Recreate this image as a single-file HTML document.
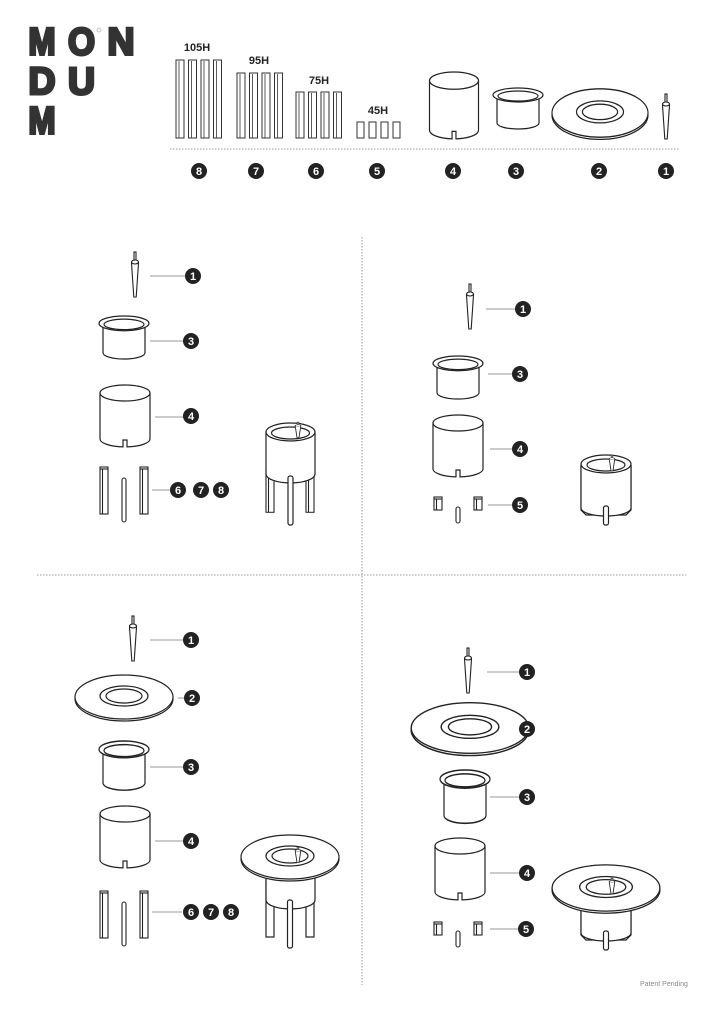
<!DOCTYPE html>
<html><head><meta charset="utf-8"><style>
html,body{margin:0;padding:0;background:#fff;}
svg{display:block;}
</style></head><body>
<svg width="724" height="1024" viewBox="0 0 724 1024" xmlns="http://www.w3.org/2000/svg">
<defs>
<g id="cyl" fill="#fff" stroke="#222" stroke-width="1.2">
  <path d="M-25,8 V54 A25,8 0 0 0 -2,61.9 V55 H2 V61.9 A25,8 0 0 0 25,54 V8"/>
  <ellipse cx="0" cy="8" rx="25" ry="8"/>
</g>
<g id="cup" fill="#fff" stroke="#222" stroke-width="1.2">
  <path d="M-21,10 V35 A21,6 0 0 0 21,35 V10"/>
  <ellipse cx="0" cy="7" rx="25" ry="7"/>
  <ellipse cx="0" cy="8" rx="20" ry="5"/>
</g>
<g id="plate" fill="#fff" stroke="#222" stroke-width="1.2">
  <ellipse cx="0" cy="2" rx="49" ry="22"/>
  <ellipse cx="0" cy="0" rx="49" ry="22"/>
  <ellipse cx="0" cy="-1" rx="24" ry="10"/>
  <ellipse cx="0" cy="-1" rx="18" ry="7"/>
</g>
<g id="spike" fill="#fff" stroke="#222" stroke-width="1.1">
  <rect x="-1" y="0" width="2" height="9"/>
  <path d="M-3.5,11 L3.5,11 L1.2,45 L-1.2,45 Z"/>
  <ellipse cx="0" cy="10" rx="3.5" ry="2"/>
</g>
<g id="legL" fill="#fff" stroke="#222" stroke-width="1.1">
  <rect x="0" y="0" width="8" height="47"/>
  <line x1="2.5" y1="1.5" x2="2.5" y2="47"/>
  <line x1="0" y1="2" x2="8" y2="2"/>
</g>
<g id="legS" fill="#fff" stroke="#222" stroke-width="1.1">
  <rect x="0" y="0" width="8" height="13"/>
  <line x1="2.5" y1="1.5" x2="2.5" y2="13"/>
  <line x1="0" y1="2" x2="8" y2="2"/>
</g>
</defs>

<!-- Logo -->
<g font-family="Liberation Sans, sans-serif" font-weight="bold" font-size="38" fill="#333" stroke="#333" stroke-width="3" stroke-linejoin="miter">
<text x="28.5" y="54.5" textLength="27" lengthAdjust="spacingAndGlyphs">M</text>
<text x="68" y="54.5" textLength="27" lengthAdjust="spacingAndGlyphs">O</text>
<text x="107.5" y="54.5" textLength="27" lengthAdjust="spacingAndGlyphs">N</text>
<text x="28.5" y="94" textLength="27" lengthAdjust="spacingAndGlyphs">D</text>
<text x="68" y="94" textLength="27" lengthAdjust="spacingAndGlyphs">U</text>
<text x="28.5" y="133.5" textLength="27" lengthAdjust="spacingAndGlyphs">M</text>
</g>
<circle cx="99" cy="30" r="2" fill="none" stroke="#999" stroke-width="0.6"/>

<!-- size labels -->
<g font-family="Liberation Sans, sans-serif" font-size="11" font-weight="bold" fill="#222" text-anchor="middle">
<text x="197" y="51">105H</text><text x="259" y="64">95H</text><text x="319" y="84">75H</text><text x="378" y="114">45H</text>
</g>
<g fill="#fff" stroke="#333" stroke-width="1">
<rect x="176" y="60" width="8" height="78"/><rect x="188.5" y="60" width="8" height="78"/><rect x="201" y="60" width="8" height="78"/><rect x="213.5" y="60" width="8" height="78"/>
<rect x="237" y="73" width="8" height="65"/><rect x="249.5" y="73" width="8" height="65"/><rect x="262" y="73" width="8" height="65"/><rect x="274.5" y="73" width="8" height="65"/>
<rect x="296" y="92" width="8" height="46"/><rect x="308.5" y="92" width="8" height="46"/><rect x="321" y="92" width="8" height="46"/><rect x="333.5" y="92" width="8" height="46"/>
<rect x="357" y="122" width="7" height="16"/><rect x="369" y="122" width="7" height="16"/><rect x="381" y="122" width="7" height="16"/><rect x="393" y="122" width="7" height="16"/>
</g>
<g stroke="#333" stroke-width="0.8">
<line x1="179" y1="61" x2="179" y2="138"/><line x1="191.5" y1="61" x2="191.5" y2="138"/><line x1="204" y1="61" x2="204" y2="138"/><line x1="216.5" y1="61" x2="216.5" y2="138"/>
<line x1="240" y1="74" x2="240" y2="138"/><line x1="252.5" y1="74" x2="252.5" y2="138"/><line x1="265" y1="74" x2="265" y2="138"/><line x1="277.5" y1="74" x2="277.5" y2="138"/>
<line x1="299" y1="93" x2="299" y2="138"/><line x1="311.5" y1="93" x2="311.5" y2="138"/><line x1="324" y1="93" x2="324" y2="138"/><line x1="336.5" y1="93" x2="336.5" y2="138"/>
</g>
<use href="#cyl" transform="translate(454,72) scale(0.98,1.08)"/>
<use href="#cup" transform="translate(518,88)"/>
<use href="#plate" transform="translate(600,113) scale(0.98,1.1)"/>
<use href="#spike" transform="translate(666,94)"/>

<!-- dotted lines -->
<g stroke="#999" stroke-width="1" stroke-dasharray="1.5,1.5">
<line x1="170" y1="149" x2="680" y2="149"/>
<line x1="362" y1="237" x2="362" y2="985"/>
<line x1="37" y1="575" x2="686" y2="575"/>
</g>

<!-- leader lines -->
<g stroke="#999" stroke-width="1">
<line x1="150" y1="276" x2="185" y2="276"/>
<line x1="150" y1="341" x2="185" y2="341"/>
<line x1="155" y1="417" x2="185" y2="417"/>
<line x1="152" y1="490" x2="172" y2="490"/>
<line x1="486" y1="309" x2="516" y2="309"/>
<line x1="488" y1="374" x2="514" y2="374"/>
<line x1="490" y1="449" x2="514" y2="449"/>
<line x1="488" y1="505" x2="514" y2="505"/>
<line x1="150" y1="640" x2="185" y2="640"/>
<line x1="178" y1="698" x2="185" y2="698"/>
<line x1="150" y1="767" x2="185" y2="767"/>
<line x1="155" y1="841" x2="185" y2="841"/>
<line x1="152" y1="912" x2="182" y2="912"/>
<line x1="487" y1="672" x2="520" y2="672"/>
<line x1="510" y1="729" x2="520" y2="729"/>
<line x1="490" y1="797" x2="520" y2="797"/>
<line x1="490" y1="873" x2="520" y2="873"/>
<line x1="490" y1="929" x2="520" y2="929"/>
</g>

<!-- panel 1 -->
<use href="#spike" transform="translate(135,252)"/>
<use href="#cup" transform="translate(124,316) scale(1,1.05)"/>
<use href="#cyl" transform="translate(125,385)"/>
<use href="#legL" transform="translate(100,467)"/>
<use href="#legL" transform="translate(140,467)"/>
<rect x="122" y="478" width="4" height="44" fill="#fff" stroke="#222" stroke-width="1.1" rx="2"/>
<g fill="#fff" stroke="#222" stroke-width="1.2">
<use href="#legL" transform="translate(266,470) scale(1,0.9)"/>
<use href="#legL" transform="translate(306,470) scale(1,0.9)"/>
<path d="M266,432 V474 A24.5,9 0 0 0 315,474 V432"/>
<ellipse cx="290.5" cy="432" rx="24.5" ry="9"/>
<ellipse cx="290.5" cy="433" rx="19" ry="6"/>
<rect x="288" y="476" width="5" height="49" rx="2"/>
</g>
<use href="#spike" transform="translate(298,422) scale(0.8,0.35)"/>

<!-- panel 2 -->
<use href="#spike" transform="translate(470,284)"/>
<use href="#cup" transform="translate(458,356) scale(1,1.05)"/>
<use href="#cyl" transform="translate(458,415)"/>
<use href="#legS" transform="translate(434,497)"/>
<use href="#legS" transform="translate(474,497)"/>
<rect x="456" y="507" width="4" height="16" fill="#fff" stroke="#222" stroke-width="1.1" rx="2"/>
<g fill="#fff" stroke="#222" stroke-width="1.2">
<path d="M581,465 V510 L586,515 H626 L631,510 V465"/>
<path d="M581,465 V508 A25,8 0 0 0 631,508 V465"/>
<ellipse cx="606" cy="464" rx="25" ry="9"/>
<ellipse cx="606" cy="465" rx="19" ry="6"/>
<rect x="603.5" y="506" width="5" height="19" rx="2"/>
</g>
<use href="#spike" transform="translate(612,455) scale(0.8,0.35)"/>

<!-- panel 3 -->
<use href="#spike" transform="translate(133,616)"/>
<use href="#plate" transform="translate(124,697)"/>
<use href="#cup" transform="translate(124,741) scale(1,1.2)"/>
<use href="#cyl" transform="translate(125,806)"/>
<use href="#legL" transform="translate(100,891)"/>
<use href="#legL" transform="translate(140,891)"/>
<rect x="122" y="902" width="4" height="44" fill="#fff" stroke="#222" stroke-width="1.1" rx="2"/>
<g fill="#fff" stroke="#222" stroke-width="1.2">
<rect x="266" y="880" width="8" height="57"/>
<rect x="306" y="880" width="8" height="57"/>
<path d="M266,870 V900 A24.5,9 0 0 0 315,900 V870"/>
</g>
<use href="#plate" transform="translate(290,857)"/>
<rect x="287.5" y="900" width="5" height="48" rx="2" fill="#fff" stroke="#222" stroke-width="1.2"/>
<use href="#spike" transform="translate(298,847) scale(0.8,0.35)"/>

<!-- panel 4 -->
<use href="#spike" transform="translate(468,648)"/>
<use href="#plate" transform="translate(470,728) scale(1.2,1.15)"/>
<use href="#cup" transform="translate(465,770) scale(1,1.3)"/>
<use href="#cyl" transform="translate(460,838)"/>
<use href="#legS" transform="translate(434,922)"/>
<use href="#legS" transform="translate(474,922)"/>
<rect x="456" y="931" width="4" height="16" fill="#fff" stroke="#222" stroke-width="1.1" rx="2"/>
<g fill="#fff" stroke="#222" stroke-width="1.2">
<path d="M581,895 V935 L586,940 H626 L631,935 V895"/>
<path d="M581,895 V933 A25,8 0 0 0 631,933 V895"/>
</g>
<use href="#plate" transform="translate(606,888) scale(1.1,1.05)"/>
<rect x="603.5" y="931" width="5" height="19" rx="2" fill="#fff" stroke="#222" stroke-width="1.2"/>
<use href="#spike" transform="translate(612,878) scale(0.8,0.35)"/>

<!-- number badges -->
<g font-family="Liberation Sans, sans-serif" font-weight="bold" font-size="11" text-anchor="middle">
<g fill="#222">
<circle cx="199" cy="171" r="8"/><circle cx="256" cy="171" r="8"/><circle cx="316" cy="171" r="8"/><circle cx="377" cy="171" r="8"/>
<circle cx="453" cy="171" r="8"/><circle cx="516" cy="171" r="8"/><circle cx="599" cy="171" r="8"/><circle cx="666" cy="171" r="8"/>
<circle cx="193" cy="276" r="8"/><circle cx="191" cy="341" r="8"/><circle cx="191" cy="416" r="8"/>
<circle cx="178" cy="490" r="8"/><circle cx="201" cy="490" r="8"/><circle cx="221" cy="490" r="8"/>
<circle cx="523" cy="309" r="8"/><circle cx="520" cy="374" r="8"/><circle cx="520" cy="449" r="8"/><circle cx="520" cy="505" r="8"/>
<circle cx="191" cy="640" r="8"/><circle cx="192" cy="698" r="8"/><circle cx="191" cy="767" r="8"/><circle cx="191" cy="841" r="8"/>
<circle cx="191" cy="912" r="8"/><circle cx="211" cy="912" r="8"/><circle cx="231" cy="912" r="8"/>
<circle cx="527" cy="672" r="8"/><circle cx="527" cy="729" r="8"/><circle cx="527" cy="797" r="8"/><circle cx="527" cy="873" r="8"/><circle cx="526" cy="929" r="8"/>
</g>
<g fill="#fff">
<text x="199" y="175">8</text><text x="256" y="175">7</text><text x="316" y="175">6</text><text x="377" y="175">5</text>
<text x="453" y="175">4</text><text x="516" y="175">3</text><text x="599" y="175">2</text><text x="666" y="175">1</text>
<text x="193" y="280">1</text><text x="191" y="345">3</text><text x="191" y="420">4</text>
<text x="178" y="494">6</text><text x="201" y="494">7</text><text x="221" y="494">8</text>
<text x="523" y="313">1</text><text x="520" y="378">3</text><text x="520" y="453">4</text><text x="520" y="509">5</text>
<text x="191" y="644">1</text><text x="192" y="702">2</text><text x="191" y="771">3</text><text x="191" y="845">4</text>
<text x="191" y="916">6</text><text x="211" y="916">7</text><text x="231" y="916">8</text>
<text x="527" y="676">1</text><text x="527" y="733">2</text><text x="527" y="801">3</text><text x="527" y="877">4</text><text x="526" y="933">5</text>
</g>
</g>

<text x="640" y="986" font-family="Liberation Sans, sans-serif" font-size="7" fill="#888">Patent Pending</text>
</svg>
</body></html>
